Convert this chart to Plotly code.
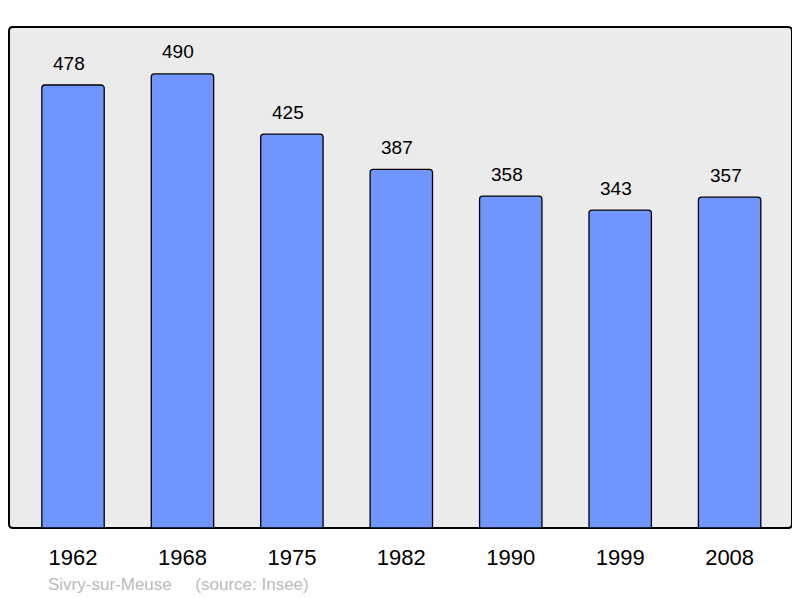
import plotly.graph_objects as go

years = ["1962", "1968", "1975", "1982", "1990", "1999", "2008"]
population = [478, 490, 425, 387, 358, 343, 357]

# page body has an 8px margin, so the figure is sized/offset to compensate
W, H = 792, 590
L, R, T, B = 1, 8, 19, 70

fig = go.Figure()
fig.add_trace(go.Bar(
    x=years, y=population,
    width=0.57,
    marker=dict(color="#7195FF", line=dict(color="#000000", width=1.3), cornerradius=3),
    hoverinfo="skip",
))

# category axis: annotation x uses the category's serial index
for i, v in enumerate(population):
    fig.add_annotation(x=i, y=v, text=str(v), showarrow=False, yshift=22, xshift=-4,
                       xref="x", yref="y",
                       font=dict(size=19, color="#000000", family="Liberation Sans"))

pw, ph = W - L - R, H - T - B
r = 4
rx, ry = r / pw, r / ph
path = (f"M {rx},0 L {1-rx},0 Q 1,0 1,{ry} L 1,{1-ry} Q 1,1 {1-rx},1 "
        f"L {rx},1 Q 0,1 0,{1-ry} L 0,{ry} Q 0,0 {rx},0 Z")
fig.add_shape(type="path", xref="paper", yref="paper", path=path,
              line=dict(color="#000000", width=2), fillcolor="#EBEBEB", layer="below")

fig.add_annotation(xref="paper", yref="paper", x=(38 - L) / pw, y=(ph - (576 - T)) / ph,
                   xanchor="left", yanchor="middle", showarrow=False,
                   text="Sivry-sur-Meuse &nbsp;&nbsp;&nbsp;&nbsp;(source: Insee)",
                   font=dict(size=17, color="#BBBBBB", family="Liberation Sans"))

fig.update_layout(
    width=W, height=H,
    margin=dict(l=L, r=R, t=T, b=B, pad=0),
    paper_bgcolor="#FFFFFF", plot_bgcolor="rgba(0,0,0,0)",
    showlegend=False,
    font=dict(family="Liberation Sans", color="#000000"),
    xaxis=dict(type="category", range=[-0.585, 6.57], showgrid=False, zeroline=False, showline=False,
               ticks="outside", ticklen=10, tickcolor="rgba(0,0,0,0)",
               tickfont=dict(size=22, color="#000000")),
    yaxis=dict(range=[0, 540.6], showgrid=False, zeroline=False, showline=False,
               showticklabels=False, ticks=""),
)

fig.write_html("out.html")
